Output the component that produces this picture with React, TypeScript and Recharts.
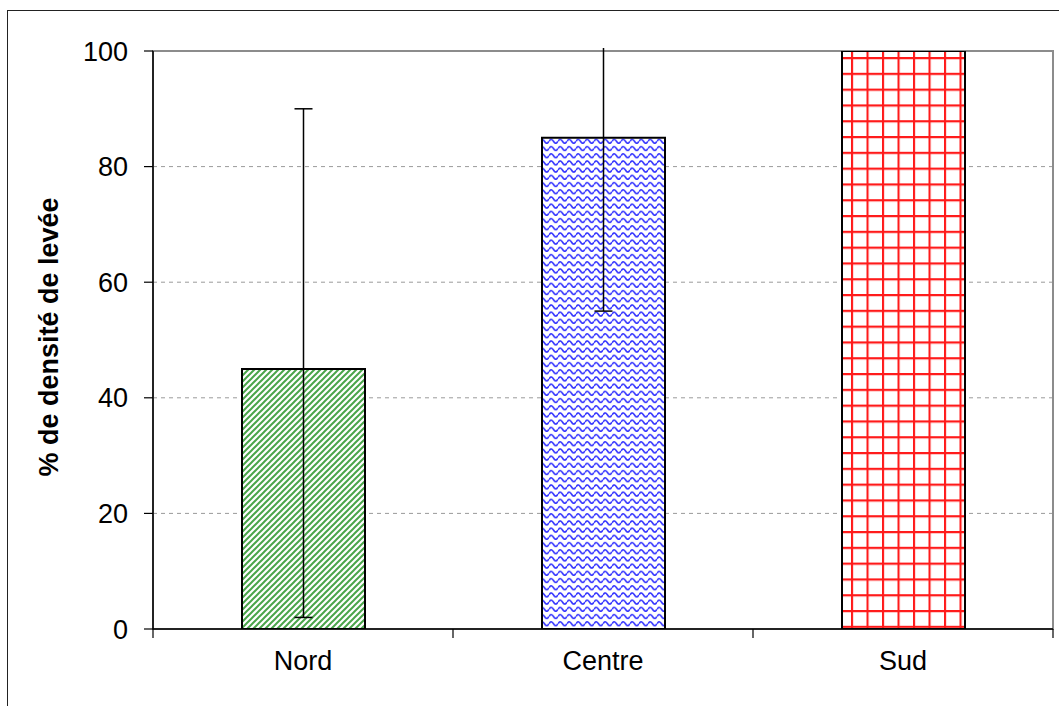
import {
  BarChart,
  Bar,
  XAxis,
  YAxis,
  CartesianGrid,
  ErrorBar,
  ReferenceArea,
  Cell,
  Label,
} from "recharts";

const categories = ["Nord", "Centre", "Sud"];
const densite = [45, 85, 100];
const errLow = [43, 30, null];
const errHigh = [45, 30, null];
const yTicks = [0, 20, 40, 60, 80, 100];
const fills = ["url(#hatchGreen)", "url(#waveBlue)", "url(#gridRed)"];

const data = categories.map((name, i) => ({
  name,
  value: densite[i],
  err: errLow[i] == null ? null : [errLow[i], errHigh[i]],
}));

const W = 1059;
const H = 706;
const FONT = "'Liberation Sans', Arial, sans-serif";
const BAND = 300;

function CategoryTick({ x, y, payload, index }: any) {
  const half = BAND / 2;
  return (
    <g>
      <line x1={x - half} y1={y} x2={x - half} y2={y + 9} stroke="#000" strokeWidth={1.2} />
      {index === categories.length - 1 && (
        <line x1={x + half} y1={y} x2={x + half} y2={y + 9} stroke="#000" strokeWidth={1.2} />
      )}
      <text
        x={x}
        y={y + 41}
        textAnchor="middle"
        fontFamily={FONT}
        fontSize={27}
        fill="#000"
      >
        {payload.value}
      </text>
    </g>
  );
}

function YTitle({ viewBox }: any) {
  const cx = viewBox.x - 44;
  const cy = viewBox.y + viewBox.height / 2 - 3;
  return (
    <text
      x={cx}
      y={cy}
      transform={`rotate(-90, ${cx}, ${cy})`}
      textAnchor="middle"
      dominantBaseline="central"
      fontFamily={FONT}
      fontSize={27}
      fontWeight="bold"
      fill="#000"
    >
      % de densité de levée
    </text>
  );
}

export default function App() {
  return (
    <div
      style={{
        position: "absolute",
        left: 0,
        top: 0,
        width: W,
        height: H,
        overflow: "hidden",
        background: "#fff",
      }}
    >
      <style>{`[class*="recharts-errorBar"] { clip-path: url(#plotClip); }`}</style>
      <div
        style={{
          position: "absolute",
          left: 7,
          top: 10,
          width: 1100,
          height: 800,
          border: "1.5px solid #222",
        }}
      />
      <div style={{ position: "absolute", left: 0, top: 0 }}>
        <BarChart
          width={W}
          height={H}
          data={data}
          margin={{ top: 51, right: 6, left: 93, bottom: 0 }}
        >
          <defs>
            <clipPath id="plotClip" clipPathUnits="userSpaceOnUse">
              <rect x={140} y={48} width={920} height={600} />
            </clipPath>
            <pattern id="hatchGreen" patternUnits="userSpaceOnUse" width={6} height={6}>
              <rect width={6} height={6} fill="#fff" />
              <path
                d="M-1,1 L1,-1 M0,6 L6,0 M5,7 L7,5"
                stroke="#4aa54a"
                strokeWidth={2}
              />
            </pattern>
            <pattern id="waveBlue" patternUnits="userSpaceOnUse" width={9} height={7.2}>
              <rect width={9} height={7.2} fill="#fff" />
              <path
                d="M0,4.5 Q2.25,0.5 4.5,4.5 T9,4.5"
                fill="none"
                stroke="#3535ff"
                strokeWidth={1.6}
              />
            </pattern>
            <pattern
              id="gridRed"
              patternUnits="userSpaceOnUse"
              x={851}
              y={57}
              width={15.5}
              height={15.8}
            >
              <rect width={15.5} height={15.8} fill="#fff" />
              <path d="M1,0 V15.8 M0,1 H15.5" stroke="#ff1a1a" strokeWidth={2.2} />
            </pattern>
          </defs>
          <CartesianGrid
            vertical={false}
            stroke="#9a9a9a"
            strokeDasharray="4 4"
            strokeWidth={1}
          />
          <ReferenceArea y1={0} y2={100} fill="none" stroke="#8c8c8c" strokeWidth={2} />
          <XAxis
            dataKey="name"
            height={77}
            tickLine={false}
            tickSize={0}
            tickMargin={0}
            axisLine={{ stroke: "#000", strokeWidth: 1.5 }}
            tick={<CategoryTick />}
            interval={0}
          />
          <YAxis
            width={60}
            domain={[0, 100]}
            ticks={yTicks}
            allowDataOverflow
            tickSize={9}
            tickMargin={16}
            tickLine={{ stroke: "#000", strokeWidth: 1.2 }}
            axisLine={{ stroke: "#000", strokeWidth: 1.5 }}
            tick={{ fill: "#000", fontSize: 27, fontFamily: FONT }}
          >
            <Label content={<YTitle />} />
          </YAxis>
          <Bar
            dataKey="value"
            barSize={123}
            stroke="#000"
            strokeWidth={2}
            isAnimationActive={false}
          >
            {data.map((d, i) => (
              <Cell key={d.name} fill={fills[i]} />
            ))}
            <ErrorBar
              dataKey="err"
              width={9}
              stroke="#000"
              strokeWidth={1.5}
              isAnimationActive={false}
            />
          </Bar>
        </BarChart>
      </div>
    </div>
  );
}
